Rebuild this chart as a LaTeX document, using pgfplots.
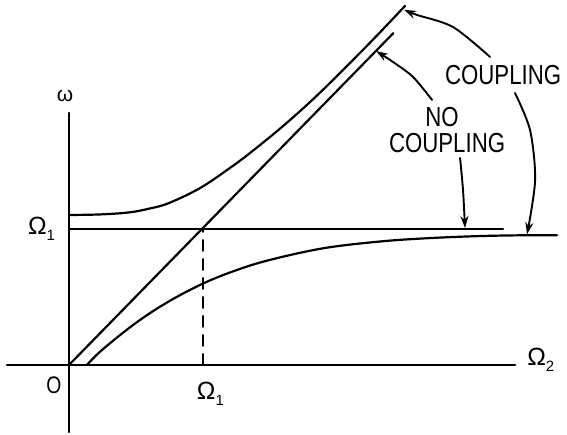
\documentclass[border=0pt]{standalone}
\usepackage{fontspec}
\setmainfont{Liberation Sans}
\usepackage{pgfplots}
\pgfplotsset{compat=1.18}
\usetikzlibrary{arrows.meta}

% lettering: slightly tall, narrow capitals
\newcommand\lbl[2]{\scalebox{0.97}[1.2]{\fontsize{#1}{#1}\selectfont #2}}
\newcommand\sub[1]{\raisebox{-0.45ex}{\fontsize{15}{15}\selectfont #1}}

\begin{document}
\begin{tikzpicture}
\useasboundingbox (0,0) rectangle (567bp,435bp);
\begin{axis}[
  scale only axis, width=567bp, height=435bp,
  xmin=-0.515, xmax=3.716, ymin=-0.515, ymax=2.684,
  hide axis, clip=false,
  cycle list={{black, no markers}},
  every axis plot/.append style={black, no markers, line width=2.2bp, line cap=round},
  arr/.style={smooth, line width=1.9bp, -{Stealth[length=12bp,width=8bp]}},
]
% axes
\addplot coordinates {(-0.463,0) (3.328,0)};
\addplot coordinates {(0,-0.493) (0,1.853)};
% uncoupled modes
\addplot coordinates {(0,1.0) (3.239,1.0)};
\addplot coordinates {(0,0) (2.42,2.44)};
% crossing point
\addplot[line width=1.9bp, dash pattern=on 11bp off 8bp] coordinates {(1.0,0) (1.0,1.0)};
% coupled modes, upper branch
\addplot[smooth, tension=0.6] coordinates {
  (0,1.103) (0.231,1.107) (0.448,1.122) (0.604,1.151) (0.746,1.191)
  (0.978,1.301) (1.201,1.449) (1.351,1.559) (1.597,1.757) (1.851,1.982)
  (2.119,2.243) (2.299,2.424) (2.507,2.640)};
% coupled modes, lower branch
\addplot[smooth, tension=0.6] coordinates {
  (0.134,0) (0.246,0.110) (0.500,0.310) (0.746,0.468) (1.007,0.602)
  (1.246,0.696) (1.493,0.771) (1.896,0.858) (2.321,0.908) (2.672,0.932)
  (3.067,0.948) (3.418,0.954) (3.642,0.954)};
% annotation arrows
\addplot[arr] coordinates {
  (2.709,1.949) (2.567,2.118) (2.418,2.228) (2.291,2.309)};
\addplot[arr] coordinates {
  (3.142,2.265) (2.866,2.485) (2.597,2.574) (2.5,2.612)};
\addplot[arr] coordinates {
  (2.918,1.522) (2.940,1.287) (2.955,1.007)};
\addplot[arr] coordinates {
  (3.328,2.0) (3.440,1.728) (3.478,1.360) (3.418,0.961)};
% labels
\node at (axis cs:3.239,2.132) {\lbl{23}{COUPLING}};
\node at (axis cs:2.784,1.824) {\lbl{23}{NO}};
\node at (axis cs:2.821,1.632) {\lbl{23}{COUPLING}};
\node at (axis cs:-0.030,1.978) {\fontsize{21}{21}\selectfont ω};
\node at (axis cs:-0.205,1.0) {\fontsize{25}{25}\selectfont Ω\sub{1}};
\node at (axis cs:-0.112,-0.147) {\lbl{20}{O}};
\node at (axis cs:1.055,-0.213) {\fontsize{25}{25}\selectfont Ω\sub{1}};
\node at (axis cs:3.52,0.037) {\fontsize{25}{25}\selectfont Ω\sub{2}};
\end{axis}
\end{tikzpicture}
\end{document}
